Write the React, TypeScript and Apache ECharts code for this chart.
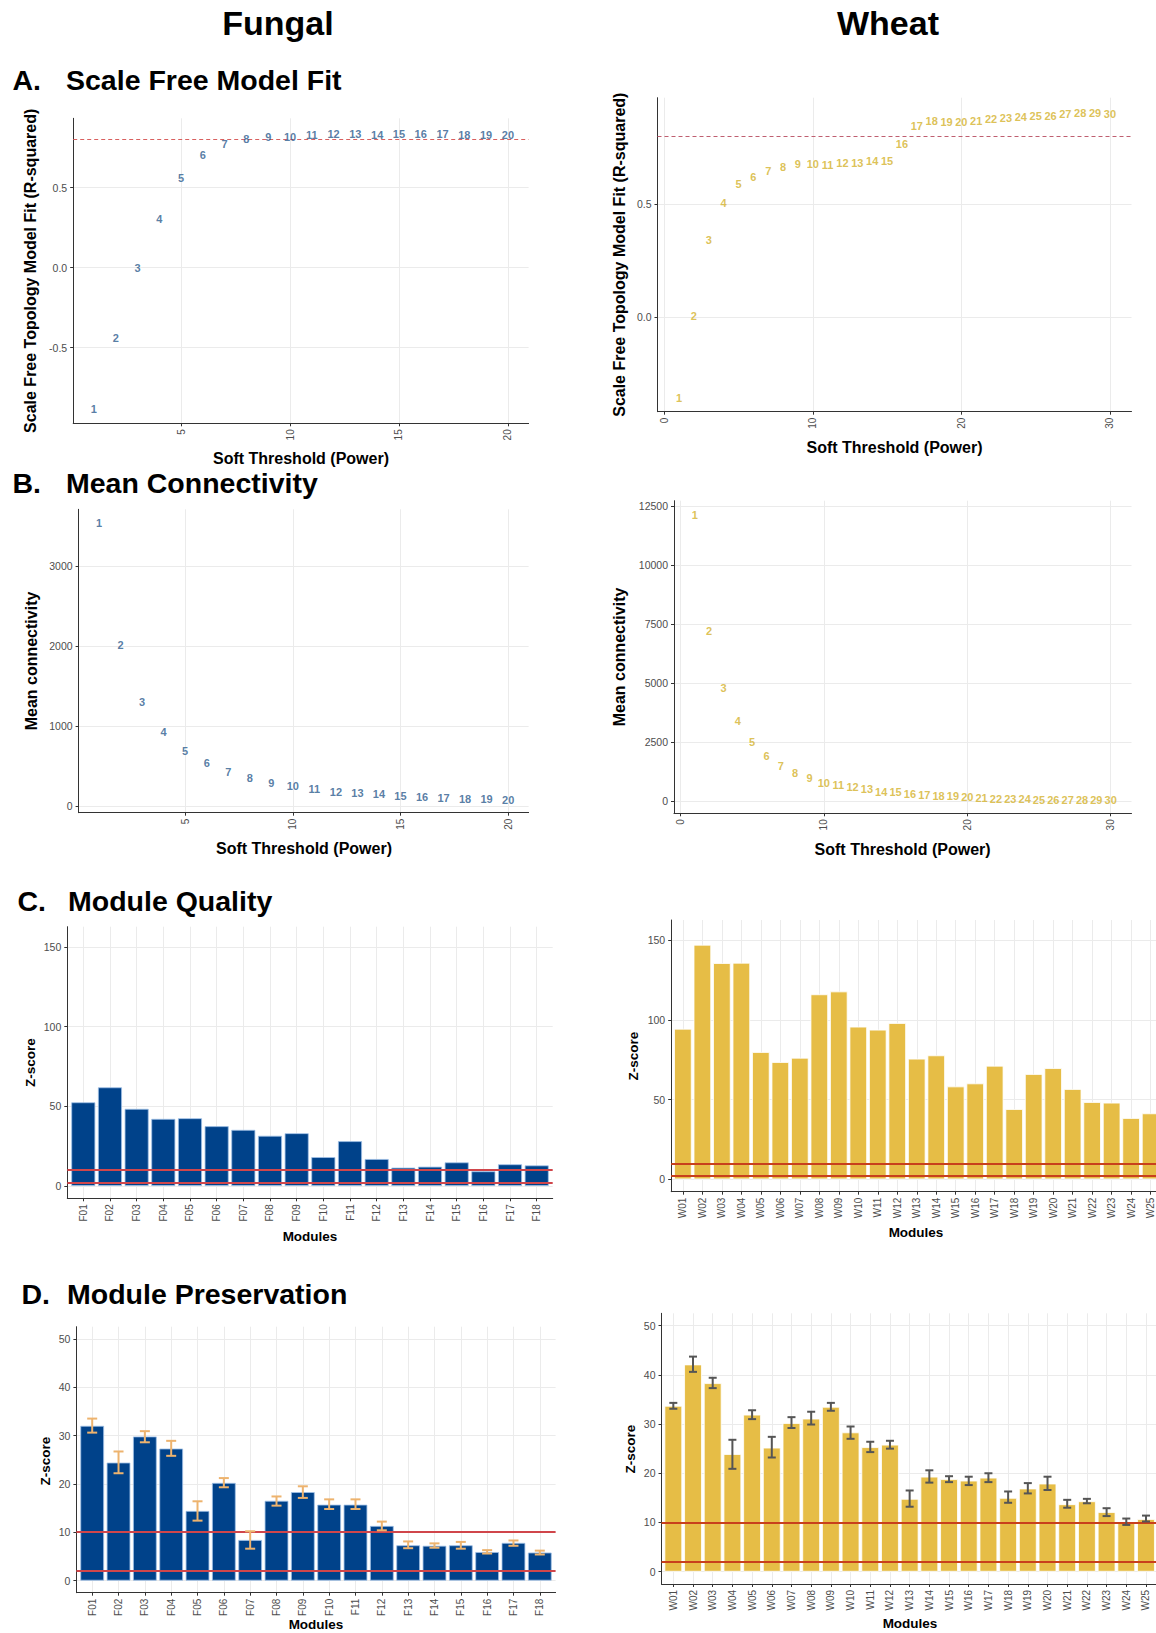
import React, { useEffect, useRef } from 'react';
import * as echarts from 'echarts';

// ---------- DATA ----------
const fungalPowers = [1, 2, 3, 4, 5, 6, 7, 8, 9, 10, 11, 12, 13, 14, 15, 16, 17, 18, 19, 20];
const wheatPowers = [1, 2, 3, 4, 5, 6, 7, 8, 9, 10, 11, 12, 13, 14, 15, 16, 17, 18, 19, 20, 21, 22, 23, 24, 25, 26, 27, 28, 29, 30];

const fungalR2 = [-0.886, -0.441, -0.002, 0.304, 0.562, 0.704, 0.773, 0.802, 0.819, 0.817, 0.829, 0.833, 0.833, 0.829, 0.836, 0.836, 0.835, 0.830, 0.829, 0.830];
const wheatR2 = [-0.356, 0.006, 0.342, 0.507, 0.588, 0.622, 0.649, 0.664, 0.678, 0.678, 0.676, 0.681, 0.684, 0.692, 0.693, 0.767, 0.848, 0.869, 0.864, 0.864, 0.870, 0.877, 0.880, 0.885, 0.891, 0.891, 0.900, 0.903, 0.904, 0.900];

const fungalConnectivity = [3537, 2016, 1308, 925, 696, 538, 425, 358, 296, 254, 217, 183, 162, 150, 129, 117, 100, 96, 87, 79];
const wheatConnectivity = [12119, 7203, 4775, 3403, 2513, 1907, 1497, 1172, 960, 777, 678, 579, 494, 395, 367, 297, 254, 226, 212, 155, 110, 95, 85, 70, 60, 55, 50, 40, 35, 30];

const fungalModules = ['F01', 'F02', 'F03', 'F04', 'F05', 'F06', 'F07', 'F08', 'F09', 'F10', 'F11', 'F12', 'F13', 'F14', 'F15', 'F16', 'F17', 'F18'];
const wheatModules = ['W01', 'W02', 'W03', 'W04', 'W05', 'W06', 'W07', 'W08', 'W09', 'W10', 'W11', 'W12', 'W13', 'W14', 'W15', 'W16', 'W17', 'W18', 'W19', 'W20', 'W21', 'W22', 'W23', 'W24', 'W25'];

const fungalQuality = [52.5, 61.9, 48.4, 42.1, 42.5, 37.5, 35.2, 31.5, 33.1, 18.1, 28.1, 16.9, 11.5, 12.1, 14.8, 9.2, 13.6, 12.9];
const wheatQuality = [94.5, 147.2, 135.7, 135.9, 79.9, 73.6, 76.3, 116.1, 117.9, 95.8, 93.9, 98.1, 75.7, 77.8, 58.3, 60.2, 71.3, 44.1, 66.1, 69.8, 56.7, 48.5, 48.1, 38.5, 41.4];

const fungalPreservation = [32.0, 24.4, 29.8, 27.3, 14.4, 20.2, 8.4, 16.5, 18.3, 15.7, 15.7, 11.3, 7.3, 7.2, 7.3, 5.9, 7.8, 5.8];
const fungalPresLow = [30.6, 22.2, 28.6, 25.8, 12.4, 19.3, 6.6, 15.5, 17.1, 14.8, 14.8, 10.4, 6.7, 6.8, 6.6, 5.6, 7.2, 5.4];
const fungalPresHigh = [33.5, 26.7, 30.9, 28.9, 16.4, 21.2, 10.2, 17.4, 19.5, 16.8, 16.8, 12.2, 8.1, 7.7, 8.0, 6.3, 8.3, 6.2];

const wheatPreservation = [33.7, 42.1, 38.3, 23.9, 31.9, 25.2, 30.2, 31.1, 33.5, 28.3, 25.3, 25.8, 14.8, 19.3, 18.8, 18.5, 19.1, 15.0, 16.9, 17.9, 13.7, 14.3, 12.1, 10.0, 10.7];
const wheatPresLow = [33.1, 40.6, 37.3, 20.9, 31.0, 23.2, 29.2, 29.9, 32.7, 27.0, 24.3, 25.0, 13.2, 18.1, 18.2, 17.6, 18.2, 14.0, 15.9, 16.6, 13.0, 13.9, 11.3, 9.5, 10.2];
const wheatPresHigh = [34.3, 43.7, 39.4, 26.8, 32.8, 27.4, 31.4, 32.5, 34.3, 29.5, 26.4, 26.6, 16.5, 20.6, 19.4, 19.3, 20.0, 16.3, 18.0, 19.3, 14.6, 14.8, 12.9, 10.8, 11.4];

const r2Threshold = 0.8;
const zThresholds = [2, 10];

const fungalPowerTicks = [5, 10, 15, 20];
const wheatPowerTicks = [0, 10, 20, 30];
const fungalR2Ticks = [-0.5, 0, 0.5];
const wheatR2Ticks = [0, 0.5];
const fungalKTicks = [0, 1000, 2000, 3000];
const wheatKTicks = [0, 2500, 5000, 7500, 10000, 12500];
const qualityTicks = [0, 50, 100, 150];
const preservationTicks = [0, 10, 20, 30, 40, 50];

// ---------- STYLE ----------
const FONT = "'Liberation Sans', Arial, Helvetica, sans-serif";
const AXIS_COLOR = '#333333';
const TICK_LABEL = '#4d4d4d';
const GRID_LINE = '#ebebeb';
const FUNGAL_TEXT = '#2d5c8e';
const WHEAT_TEXT = '#d4b22c';
const FUNGAL_BAR = '#00428a';
const WHEAT_BAR = '#e6bd46';

type GridBox = { left: number; top: number; width: number; height: number };

const gridBoxes: GridBox[] = [
  { left: 73.2, top: 118.3, width: 455.4, height: 305 }, // A fungal
  { left: 657.5, top: 97.7, width: 474, height: 314 }, // A wheat
  { left: 78.6, top: 509.3, width: 450, height: 303.4 }, // B fungal
  { left: 674, top: 500.7, width: 457.5, height: 312.6 }, // B wheat
  { left: 67.3, top: 926.7, width: 485.4, height: 271.6 }, // C fungal
  { left: 671.2, top: 920, width: 491.1, height: 271.7 }, // C wheat
  { left: 76.4, top: 1326.7, width: 479.2, height: 266 }, // D fungal
  { left: 661.5, top: 1313.3, width: 496.3, height: 270.7 }, // D wheat
];

function xAxisDef(idx: number, min: number, max: number, ticks: number[], fmt: (v: number) => string) {
  return {
    type: 'value',
    gridIndex: idx,
    min,
    max,
    axisLine: { show: true, onZero: false, lineStyle: { color: AXIS_COLOR, width: 1 } },
    axisTick: { show: true, inside: false, length: 3, customValues: ticks, lineStyle: { color: AXIS_COLOR, width: 1 } },
    axisLabel: {
      show: true,
      customValues: ticks,
      rotate: 90,
      margin: 6,
      fontSize: 10,
      color: TICK_LABEL,
      fontFamily: FONT,
      formatter: (v: number) => fmt(v),
    },
    splitLine: { show: true, lineStyle: { color: GRID_LINE, width: 1 } },
  };
}

function yAxisDef(idx: number, min: number, max: number, ticks: number[], fmt: (v: number) => string) {
  return {
    type: 'value',
    gridIndex: idx,
    min,
    max,
    axisLine: { show: true, onZero: false, lineStyle: { color: AXIS_COLOR, width: 1 } },
    axisTick: { show: true, inside: false, length: 3, customValues: ticks, lineStyle: { color: AXIS_COLOR, width: 1 } },
    axisLabel: {
      show: true,
      customValues: ticks,
      margin: 6,
      fontSize: 10.5,
      color: TICK_LABEL,
      fontFamily: FONT,
      formatter: (v: number) => fmt(v),
    },
    splitLine: { show: true, lineStyle: { color: GRID_LINE, width: 1 } },
  };
}

function labelScatter(idx: number, powers: number[], values: number[], color: string, threshold?: { value: number; color: string }) {
  const s: any = {
    type: 'scatter',
    xAxisIndex: idx,
    yAxisIndex: idx,
    silent: true,
    symbol: 'circle',
    symbolSize: 1,
    itemStyle: { color: 'rgba(0,0,0,0)' },
    data: powers.map((p, k) => [p, values[k]]),
    label: {
      show: true,
      position: 'inside',
      formatter: (p: any) => String(p.value[0]),
      color,
      fontSize: 11,
      fontWeight: 'bold',
      fontFamily: FONT,
    },
    z: 5,
  };
  if (threshold) {
    s.markLine = {
      silent: true,
      symbol: ['none', 'none'],
      label: { show: false },
      lineStyle: { color: threshold.color, type: [4, 3], width: 1.2 },
      data: [{ yAxis: threshold.value }],
    };
  }
  return s;
}

function barSeries(idx: number, values: number[], barW: number, color: string, border: string, lineColor: string) {
  return {
    type: 'bar',
    xAxisIndex: idx,
    yAxisIndex: idx,
    silent: true,
    barWidth: barW,
    data: values.map((v, k) => [k + 1, v]),
    itemStyle: { color, borderColor: border, borderWidth: 0.8 },
    markLine: {
      silent: true,
      symbol: ['none', 'none'],
      label: { show: false },
      lineStyle: { color: lineColor, type: 'solid', width: 2 },
      data: zThresholds.map((t) => ({ yAxis: t })),
    },
    z: 2,
  };
}

function errorSeries(idx: number, low: number[], high: number[], color: string, cap: number) {
  return {
    type: 'custom',
    xAxisIndex: idx,
    yAxisIndex: idx,
    silent: true,
    data: low.map((l, k) => [k + 1, l, high[k]]),
    encode: { x: 0, y: [1, 2] },
    z: 6,
    renderItem: (_params: any, api: any) => {
      const x = api.value(0);
      const lo = api.coord([x, api.value(1)]);
      const hi = api.coord([x, api.value(2)]);
      const style = { stroke: color, lineWidth: 2, fill: 'none' };
      return {
        type: 'group',
        children: [
          { type: 'line', shape: { x1: lo[0], y1: lo[1], x2: hi[0], y2: hi[1] }, style },
          { type: 'line', shape: { x1: lo[0] - cap, y1: lo[1], x2: lo[0] + cap, y2: lo[1] }, style },
          { type: 'line', shape: { x1: hi[0] - cap, y1: hi[1], x2: hi[0] + cap, y2: hi[1] }, style },
        ],
      };
    },
  };
}

function txt(text: string, x: number, y: number, size: number, align: string = 'center', rot: number = 0) {
  return {
    type: 'text',
    x,
    y,
    rotation: rot,
    z: 100,
    style: {
      text,
      fill: '#000000',
      fontSize: size,
      fontWeight: 'bold',
      fontFamily: FONT,
      align,
      verticalAlign: 'middle',
      textAlign: align,
      textVerticalAlign: 'middle',
    },
  };
}

function buildOption() {
  const fmtPlain = (v: number) => String(v);
  const fmt1 = (v: number) => v.toFixed(1);
  const fName = (v: number) => fungalModules[Math.round(v) - 1] || '';
  const wName = (v: number) => wheatModules[Math.round(v) - 1] || '';
  const fungalCats = fungalModules.map((_, k) => k + 1);
  const wheatCats = wheatModules.map((_, k) => k + 1);

  const stepCF = gridBoxes[4].width / (fungalModules.length + 0.2);
  const stepCW = gridBoxes[5].width / (wheatModules.length + 0.2);
  const stepDF = gridBoxes[6].width / (fungalModules.length + 0.2);
  const stepDW = gridBoxes[7].width / (wheatModules.length + 0.2);

  const xAxes = [
    xAxisDef(0, 0.05, 20.95, fungalPowerTicks, fmtPlain),
    xAxisDef(1, -0.45, 31.45, wheatPowerTicks, fmtPlain),
    xAxisDef(2, 0.05, 20.95, fungalPowerTicks, fmtPlain),
    xAxisDef(3, -0.45, 31.45, wheatPowerTicks, fmtPlain),
    xAxisDef(4, 0.4, fungalModules.length + 0.6, fungalCats, fName),
    xAxisDef(5, 0.4, wheatModules.length + 0.6, wheatCats, wName),
    xAxisDef(6, 0.4, fungalModules.length + 0.6, fungalCats, fName),
    xAxisDef(7, 0.4, wheatModules.length + 0.6, wheatCats, wName),
  ];
  const yAxes = [
    yAxisDef(0, -0.9727, 0.9337, fungalR2Ticks, fmt1),
    yAxisDef(1, -0.418, 0.972, wheatR2Ticks, fmt1),
    yAxisDef(2, -80, 3712, fungalKTicks, fmtPlain),
    yAxisDef(3, -521, 12725, wheatKTicks, fmtPlain),
    yAxisDef(4, -7.75, 162.75, qualityTicks, fmtPlain),
    yAxisDef(5, -7.75, 162.75, qualityTicks, fmtPlain),
    yAxisDef(6, -2.5, 52.5, preservationTicks, fmtPlain),
    yAxisDef(7, -2.5, 52.5, preservationTicks, fmtPlain),
  ];

  const series = [
    labelScatter(0, fungalPowers, fungalR2, FUNGAL_TEXT, { value: r2Threshold, color: '#d9605f' }),
    labelScatter(1, wheatPowers, wheatR2, WHEAT_TEXT, { value: r2Threshold, color: '#bf5f70' }),
    labelScatter(2, fungalPowers, fungalConnectivity, FUNGAL_TEXT),
    labelScatter(3, wheatPowers, wheatConnectivity, WHEAT_TEXT),
    barSeries(4, fungalQuality, stepCF * 0.9, FUNGAL_BAR, '#9fc0e6', '#d0464b'),
    barSeries(5, wheatQuality, stepCW * 0.9, WHEAT_BAR, '#ffffff', '#c8401c'),
    barSeries(6, fungalPreservation, stepDF * 0.9, FUNGAL_BAR, '#9fc0e6', '#d0464b'),
    errorSeries(6, fungalPresLow, fungalPresHigh, '#edb36e', 5),
    barSeries(7, wheatPreservation, stepDW * 0.9, WHEAT_BAR, '#ffffff', '#c8401c'),
    errorSeries(7, wheatPresLow, wheatPresHigh, '#555555', 4),
  ];

  const half = Math.PI / 2;
  const graphics = [
    txt('Fungal', 278, 23, 34),
    txt('Wheat', 888, 23.3, 34),
    txt('A.', 12.5, 80.3, 28.5, 'left'),
    txt('Scale Free Model Fit', 66, 80.3, 28.5, 'left'),
    txt('B.', 12.5, 483.3, 28.5, 'left'),
    txt('Mean Connectivity', 66, 483.3, 28.5, 'left'),
    txt('C.', 17.5, 901, 28.5, 'left'),
    txt('Module Quality', 68, 901, 28.5, 'left'),
    txt('D.', 21.5, 1294, 28.5, 'left'),
    txt('Module Preservation', 67, 1294, 28.5, 'left'),

    txt('Scale Free Topology Model Fit (R-squared)', 30.4, 270.8, 16, 'center', half),
    txt('Soft Threshold (Power)', 301, 458, 16),
    txt('Scale Free Topology Model Fit (R-squared)', 619, 254.7, 16, 'center', half),
    txt('Soft Threshold (Power)', 894.5, 447.5, 16),

    txt('Mean connectivity', 31, 661, 16, 'center', half),
    txt('Soft Threshold (Power)', 304, 848, 16),
    txt('Mean connectivity', 619, 657, 16, 'center', half),
    txt('Soft Threshold (Power)', 902.6, 849, 16),

    txt('Z-score', 30, 1062.5, 13.5, 'center', half),
    txt('Modules', 310, 1236, 13.5),
    txt('Z-score', 633.3, 1056, 13.5, 'center', half),
    txt('Modules', 916, 1232.5, 13.5),

    txt('Z-score', 45.5, 1461, 13.5, 'center', half),
    txt('Modules', 316, 1624, 13.5),
    txt('Z-score', 630.3, 1449, 13.5, 'center', half),
    txt('Modules', 910, 1623.5, 13.5),
  ];

  return {
    animation: false,
    backgroundColor: '#ffffff',
    textStyle: { fontFamily: FONT },
    grid: gridBoxes.map((g) => ({ ...g, show: false, containLabel: false, outerBoundsMode: 'none' })),
    xAxis: xAxes,
    yAxis: yAxes,
    series,
    graphic: { elements: graphics },
  };
}

export default function App() {
  const ref = useRef<HTMLDivElement>(null);
  useEffect(() => {
    if (!ref.current) return;
    const chart = echarts.init(ref.current, undefined, { renderer: 'svg', width: 1156, height: 1633 });
    chart.setOption(buildOption() as any);
    return () => {
      chart.dispose();
    };
  }, []);
  return (
    <div
      ref={ref}
      style={{ position: 'absolute', left: 0, top: 0, width: 1156, height: 1633, background: '#ffffff', overflow: 'hidden' }}
    />
  );
}
